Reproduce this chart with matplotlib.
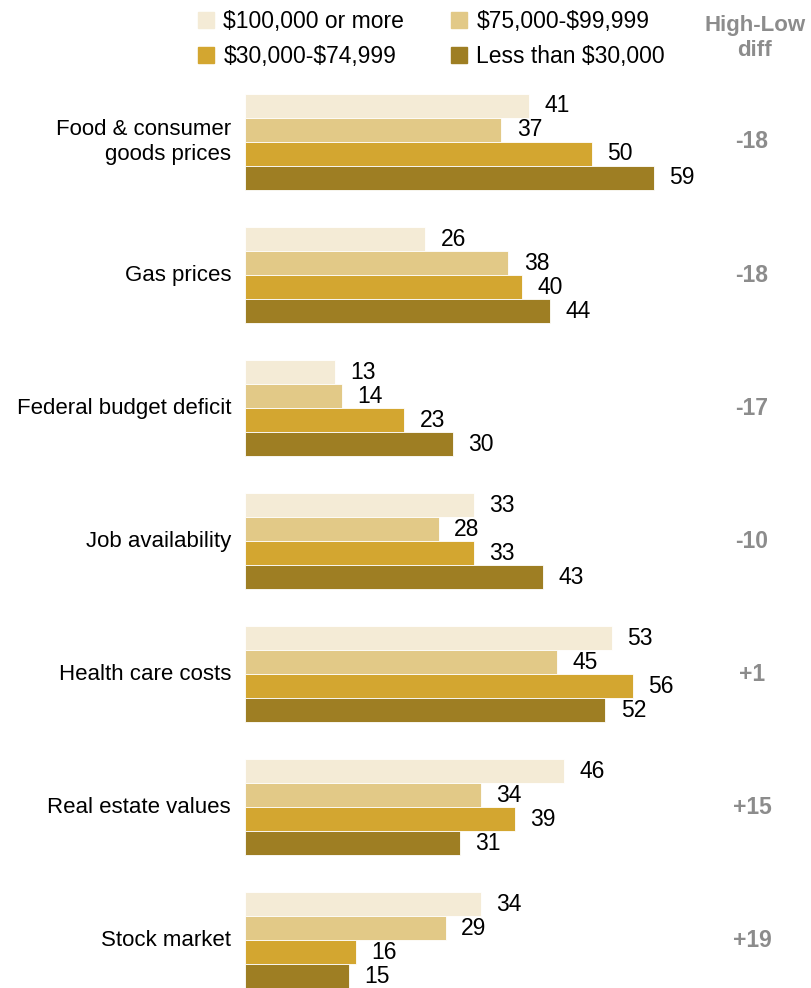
import matplotlib.pyplot as plt
from matplotlib.lines import Line2D

plt.rcParams['font.family'] = ['Liberation Sans Narrow', 'Liberation Sans', 'DejaVu Sans']

# data
categories = ['Food & consumer\ngoods prices', 'Gas prices', 'Federal budget deficit',
              'Job availability', 'Health care costs', 'Real estate values', 'Stock market']
groups = [r'\$100,000 or more', r'\$75,000-\$99,999', r'\$30,000-\$74,999', r'Less than \$30,000']
inc_100k = [41, 26, 13, 33, 53, 46, 34]
inc_75k = [37, 38, 14, 28, 45, 34, 29]
inc_30k = [50, 40, 23, 33, 56, 39, 16]
inc_low = [59, 44, 30, 43, 52, 31, 15]
diffs = ['-18', '-18', '-17', '-10', '+1', '+15', '+19']

colors = ['#F4EBD6', '#E2C987', '#D3A630', '#9E7E23']
series = [inc_100k, inc_75k, inc_30k, inc_low]

W, H = 811, 988
fig = plt.figure(figsize=(W / 100, H / 100), dpi=100)
ax = fig.add_axes([245 / W, 0, 1 - 245 / W, (H - 94) / H])

step = 133 / 24.0
for j, vals in enumerate(series):
    ys = [i * step + j for i in range(len(categories))]
    ax.barh(ys, vals, height=1.0, color=colors[j], edgecolor='white', linewidth=0.6)
    for y, v in zip(ys, vals):
        ax.annotate(str(v), (v, y), xytext=(11, 0), textcoords='offset points',
                    ha='left', va='center', fontsize=16.5, color='black')

ax.set_xlim(0, 566 / 6.93)
ax.set_ylim(6 * step + 3 + 0.5, -0.5)
ax.axis('off')

for i, cat in enumerate(categories):
    yc = i * step + 1.5
    ax.annotate(cat, (0, yc), xytext=(-10, 0), textcoords='offset points',
                ha='right', va='center', fontsize=16, color='black', linespacing=1.2)
    ax.annotate(diffs[i], (0, yc), xycoords=('axes fraction', 'data'),
                xytext=(752 - 245, 0), textcoords='offset pixels',
                ha='center', va='center', fontsize=16.5, color='#8C8C8C', fontweight='bold')

fig.text(755 / W, 1 - 38 / H, 'High-Low\ndiff', ha='center', va='center', fontsize=16,
         color='#8C8C8C', fontweight='bold', linespacing=1.3)

# legend
order = [0, 2, 1, 3]
handles = [Line2D([], [], marker='s', linestyle='', markersize=12, color=colors[k]) for k in order]
labels = [groups[k] for k in order]
fig.legend(handles, labels, ncol=2, loc='center left', bbox_to_anchor=(197 / W, 1 - 39 / H),
           frameon=False, fontsize=16.5, handletextpad=0.35, columnspacing=2.0,
           labelspacing=0.55, handlelength=0.8, borderaxespad=0, borderpad=0)

fig.savefig('out.png', dpi=100)
